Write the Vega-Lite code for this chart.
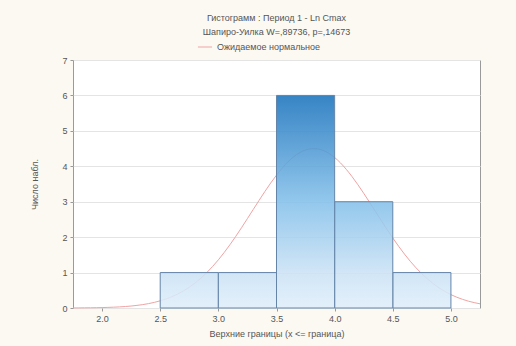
{
  "$schema": "https://vega.github.io/schema/vega-lite/v6.json",
  "width": 407,
  "height": 248,
  "autosize": {"type": "none"},
  "padding": {"left": 73, "top": 60, "right": 36, "bottom": 38},
  "background": "#fcf9f3",
  "config": {
    "font": "Liberation Sans",
    "view": {"fill": "white", "stroke": "#9a9a9a", "strokeWidth": 1},
    "axis": {"labelFontSize": 9, "labelColor": "#555", "titleFontSize": 9, "titleColor": "#555", "titleFontWeight": "normal", "domain": false, "tickColor": "#999", "tickSize": 3}
  },
  "title": {
    "text": ["Гистограмм : Период 1 - Ln Cmax", "Шапиро-Уилка W=,89736, p=,14673"],
    "fontSize": 9,
    "fontWeight": "normal",
    "color": "#555",
    "lineHeight": 14,
    "offset": 2,
    "anchor": "middle"
  },
  "datasets": {
    "bins": [
      {"lo": 2.5, "hi": 3.0, "count": 1},
      {"lo": 3.0, "hi": 3.5, "count": 1},
      {"lo": 3.5, "hi": 4.0, "count": 6},
      {"lo": 4.0, "hi": 4.5, "count": 3},
      {"lo": 4.5, "hi": 5.0, "count": 1}
    ],
    "curve": [
      {"x": 1.75, "y": 0.002}, {"x": 1.80, "y": 0.003}, {"x": 1.85, "y": 0.005}, {"x": 1.90, "y": 0.006},
      {"x": 1.95, "y": 0.009}, {"x": 2.00, "y": 0.012}, {"x": 2.05, "y": 0.017}, {"x": 2.10, "y": 0.023},
      {"x": 2.15, "y": 0.031}, {"x": 2.20, "y": 0.042}, {"x": 2.25, "y": 0.056}, {"x": 2.30, "y": 0.074},
      {"x": 2.35, "y": 0.096}, {"x": 2.40, "y": 0.124}, {"x": 2.45, "y": 0.159}, {"x": 2.50, "y": 0.203},
      {"x": 2.55, "y": 0.255}, {"x": 2.60, "y": 0.318}, {"x": 2.65, "y": 0.394}, {"x": 2.70, "y": 0.483},
      {"x": 2.75, "y": 0.586}, {"x": 2.80, "y": 0.706}, {"x": 2.85, "y": 0.843}, {"x": 2.90, "y": 0.997},
      {"x": 2.95, "y": 1.170}, {"x": 3.00, "y": 1.359}, {"x": 3.05, "y": 1.566}, {"x": 3.10, "y": 1.788},
      {"x": 3.15, "y": 2.024}, {"x": 3.20, "y": 2.270}, {"x": 3.25, "y": 2.524}, {"x": 3.30, "y": 2.781},
      {"x": 3.35, "y": 3.037}, {"x": 3.40, "y": 3.287}, {"x": 3.45, "y": 3.527}, {"x": 3.50, "y": 3.750},
      {"x": 3.55, "y": 3.952}, {"x": 3.60, "y": 4.128}, {"x": 3.65, "y": 4.275}, {"x": 3.70, "y": 4.386},
      {"x": 3.75, "y": 4.461}, {"x": 3.80, "y": 4.497}, {"x": 3.85, "y": 4.493}, {"x": 3.90, "y": 4.449},
      {"x": 3.95, "y": 4.367}, {"x": 4.00, "y": 4.248}, {"x": 4.05, "y": 4.096}, {"x": 4.10, "y": 3.914},
      {"x": 4.15, "y": 3.707}, {"x": 4.20, "y": 3.480}, {"x": 4.25, "y": 3.238}, {"x": 4.30, "y": 2.986},
      {"x": 4.35, "y": 2.729}, {"x": 4.40, "y": 2.473}, {"x": 4.45, "y": 2.220}, {"x": 4.50, "y": 1.976},
      {"x": 4.55, "y": 1.743}, {"x": 4.60, "y": 1.524}, {"x": 4.65, "y": 1.320}, {"x": 4.70, "y": 1.134},
      {"x": 4.75, "y": 0.965}, {"x": 4.80, "y": 0.814}, {"x": 4.85, "y": 0.681}, {"x": 4.90, "y": 0.564},
      {"x": 4.95, "y": 0.464}, {"x": 5.00, "y": 0.377}, {"x": 5.05, "y": 0.305}, {"x": 5.10, "y": 0.244},
      {"x": 5.15, "y": 0.193}, {"x": 5.20, "y": 0.152}, {"x": 5.25, "y": 0.118}
    ]
  },
  "layer": [
    {
      "data": {"name": "curve"},
      "mark": {"type": "line", "strokeWidth": 1, "interpolate": "monotone"},
      "encoding": {
        "x": {"field": "x", "type": "quantitative", "scale": {"domain": [1.75, 5.25], "nice": false, "zero": false},
          "axis": {"values": [2.0, 2.5, 3.0, 3.5, 4.0, 4.5, 5.0], "format": ".1f", "grid": false, "title": "Верхние границы (x <= граница)", "titlePadding": 6, "labelPadding": 3}},
        "y": {"field": "y", "type": "quantitative", "scale": {"domain": [0, 7], "nice": false},
          "axis": {"values": [0, 1, 2, 3, 4, 5, 6, 7], "labelOverlap": false, "grid": true, "gridColor": "#e4e4e4", "title": "Число набл.", "titlePadding": 22, "labelPadding": 3}},
        "color": {"datum": "Ожидаемое нормальное", "scale": {"range": ["#f0a3a3"]},
          "legend": {"orient": "none", "legendX": 124, "legendY": -21, "title": null, "labelFontSize": 9, "labelColor": "#555", "symbolType": "stroke", "symbolSize": 200, "symbolStrokeWidth": 1, "padding": 0}}
      }
    },
    {
      "data": {"name": "bins"},
      "transform": [{"filter": "datum.count == 1"}],
      "mark": {"type": "rect", "stroke": "#6585a8", "strokeWidth": 1, "fillOpacity": 0.88,
        "fill": {"gradient": "linear", "x1": 0, "y1": -5, "x2": 0, "y2": 1,
          "stops": [{"offset": 0, "color": "#1b73bd"}, {"offset": 0.5, "color": "#84c0ea"}, {"offset": 0.833, "color": "#cbe2f5"}, {"offset": 1, "color": "#dfeefa"}]}},
      "encoding": {
        "x": {"field": "lo", "type": "quantitative", "axis": {"values": [2.0, 2.5, 3.0, 3.5, 4.0, 4.5, 5.0], "format": ".1f", "grid": false, "title": "Верхние границы (x <= граница)", "titlePadding": 6, "labelPadding": 3}},
        "x2": {"field": "hi"},
        "y": {"field": "count", "type": "quantitative", "axis": {"values": [0, 1, 2, 3, 4, 5, 6, 7], "labelOverlap": false, "grid": true, "gridColor": "#e4e4e4", "title": "Число набл.", "titlePadding": 22, "labelPadding": 3}},
        "y2": {"datum": 0}
      }
    },
    {
      "data": {"name": "bins"},
      "transform": [{"filter": "datum.count == 3"}],
      "mark": {"type": "rect", "stroke": "#6585a8", "strokeWidth": 1, "fillOpacity": 0.88,
        "fill": {"gradient": "linear", "x1": 0, "y1": -1, "x2": 0, "y2": 1,
          "stops": [{"offset": 0, "color": "#1b73bd"}, {"offset": 0.5, "color": "#84c0ea"}, {"offset": 0.833, "color": "#cbe2f5"}, {"offset": 1, "color": "#dfeefa"}]}},
      "encoding": {
        "x": {"field": "lo", "type": "quantitative", "axis": {"values": [2.0, 2.5, 3.0, 3.5, 4.0, 4.5, 5.0], "format": ".1f", "grid": false, "title": "Верхние границы (x <= граница)", "titlePadding": 6, "labelPadding": 3}},
        "x2": {"field": "hi"},
        "y": {"field": "count", "type": "quantitative", "axis": {"values": [0, 1, 2, 3, 4, 5, 6, 7], "labelOverlap": false, "grid": true, "gridColor": "#e4e4e4", "title": "Число набл.", "titlePadding": 22, "labelPadding": 3}},
        "y2": {"datum": 0}
      }
    },
    {
      "data": {"name": "bins"},
      "transform": [{"filter": "datum.count == 6"}],
      "mark": {"type": "rect", "stroke": "#6585a8", "strokeWidth": 1, "fillOpacity": 0.88,
        "fill": {"gradient": "linear", "x1": 0, "y1": 0, "x2": 0, "y2": 1,
          "stops": [{"offset": 0, "color": "#1b73bd"}, {"offset": 0.5, "color": "#84c0ea"}, {"offset": 0.833, "color": "#cbe2f5"}, {"offset": 1, "color": "#dfeefa"}]}},
      "encoding": {
        "x": {"field": "lo", "type": "quantitative", "axis": {"values": [2.0, 2.5, 3.0, 3.5, 4.0, 4.5, 5.0], "format": ".1f", "grid": false, "title": "Верхние границы (x <= граница)", "titlePadding": 6, "labelPadding": 3}},
        "x2": {"field": "hi"},
        "y": {"field": "count", "type": "quantitative", "axis": {"values": [0, 1, 2, 3, 4, 5, 6, 7], "labelOverlap": false, "grid": true, "gridColor": "#e4e4e4", "title": "Число набл.", "titlePadding": 22, "labelPadding": 3}},
        "y2": {"datum": 0}
      }
    }
  ]
}
